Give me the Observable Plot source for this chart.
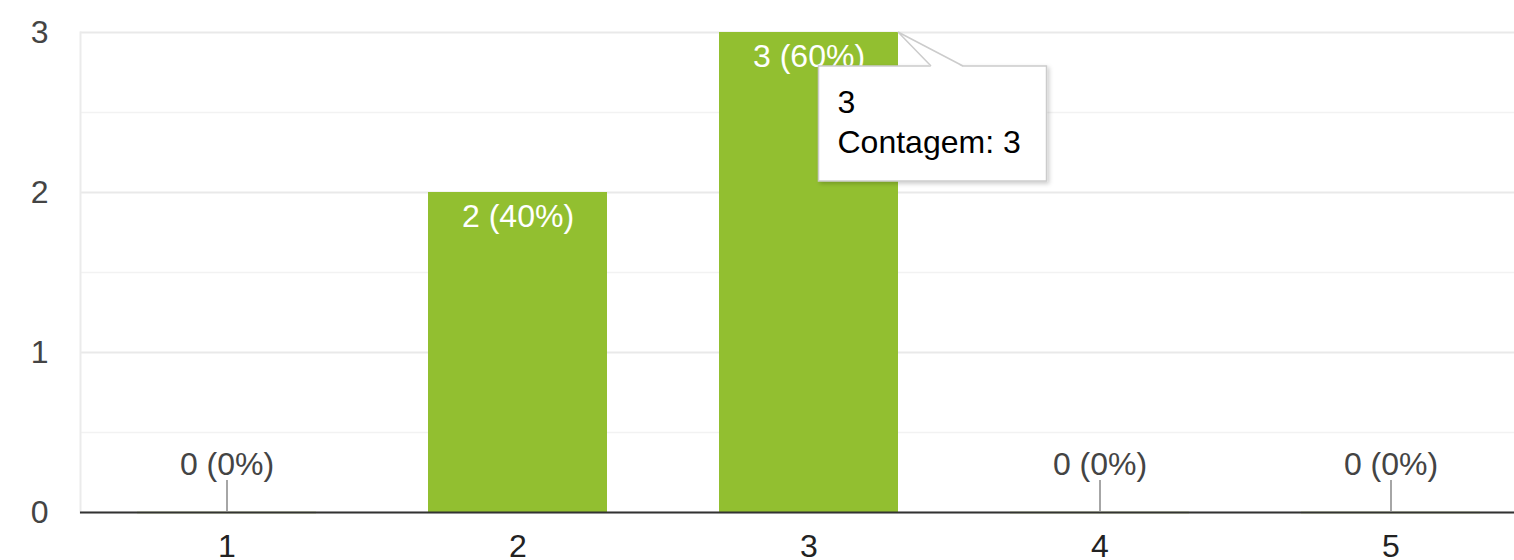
<!DOCTYPE html>
<html>
<head>
<meta charset="utf-8">
<script src="https://cdn.jsdelivr.net/npm/d3@7"></script>
<script src="https://cdn.jsdelivr.net/npm/@observablehq/plot@0.6"></script>
<style>
  html, body { margin: 0; padding: 0; background: #fff; overflow: hidden; }
  #chart { width: 1514px; height: 560px; overflow: hidden; }
  #chart svg { max-width: none !important; font-family: "Liberation Sans", Arial, sans-serif; }
</style>
</head>
<body>
<div id="chart"></div>
<script>
const categories = ["1", "2", "3", "4", "5"];
const counts = [0, 2, 3, 0, 0];
const percents = ["0%", "40%", "60%", "0%", "0%"];
const yTicks = [0, 1, 2, 3];
const yMinor = [0.5, 1.5, 2.5];
const highlighted = "3";
const tooltipTitle = "3";
const tooltipLine = "Contagem: 3";

const data = categories.map((c, i) => ({cat: c, count: counts[i], label: `${counts[i]} (${percents[i]})`}));
const nonZero = data.filter(d => d.count > 0);
const zero = data.filter(d => d.count === 0);

const green = "#92bf30";

const chart = Plot.plot({
  width: 1536,
  height: 560,
  marginLeft: 80,
  marginRight: 0,
  marginTop: 32,
  marginBottom: 48,
  style: {fontFamily: "'Liberation Sans', Arial, sans-serif", fontSize: "32px", background: "#fff", maxWidth: "none"},
  x: {domain: categories, paddingInner: 0.385, paddingOuter: 0.194, label: null},
  y: {domain: [0, 3], label: null},
  marks: [
    Plot.gridY(yMinor, {stroke: "#f2f2f2", strokeOpacity: 1, strokeWidth: 1.5}),
    Plot.gridY(yTicks, {stroke: "#e9e9e9", strokeOpacity: 1, strokeWidth: 2}),
    Plot.frame({anchor: "left", stroke: "#ebebeb", strokeWidth: 2}),
    Plot.axisY({ticks: yTicks, tickSize: 0, tickPadding: 32, fontSize: 32, fill: "#444", tickFormat: d3.format("d")}),
    Plot.axisX({tickSize: 0, tickPadding: 22, fontSize: 32, fill: "#222"}),
    Plot.tickY(zero, {x: "cat", y: 0, stroke: "#e3e8cf", strokeWidth: 3}),
    Plot.barY(nonZero.filter(d => d.cat !== highlighted), {x: "cat", y: "count", fill: green}),
    Plot.barY(nonZero.filter(d => d.cat === highlighted), {x: "cat", y: "count", fill: green, ariaLabel: "highlight"}),
    Plot.ruleY([0], {stroke: "#333", strokeWidth: 2}),
    Plot.ruleX(zero, {x: "cat", y1: 0, y2: 0.2, stroke: "#888", strokeWidth: 1.5}),
    Plot.text(zero, {x: "cat", y: 0, text: "label", dy: -48, fill: "#444", fontSize: 32}),
    Plot.text(nonZero, {x: "cat", y: "count", text: "label", dy: 24, fill: "#fff", fontSize: 32})
  ]
});

document.getElementById("chart").appendChild(chart);

// Shadow on highlighted bar
const svg = d3.select(chart);
const defs = svg.append("defs");
const f = defs.append("filter").attr("id", "barShadow").attr("x", "-10%").attr("y", "-10%").attr("width", "120%").attr("height", "120%");
f.append("feDropShadow").attr("dx", 0).attr("dy", 0).attr("stdDeviation", 2).attr("flood-color", "#000").attr("flood-opacity", 0.45);
const f2 = defs.append("filter").attr("id", "tipShadow").attr("x", "-10%").attr("y", "-10%").attr("width", "130%").attr("height", "130%");
f2.append("feDropShadow").attr("dx", 2).attr("dy", 2).attr("stdDeviation", 2).attr("flood-color", "#000").attr("flood-opacity", 0.2);
svg.selectAll('g[aria-label="highlight"] rect').attr("filter", "url(#barShadow)");

// Tooltip annotation anchored to the highlighted bar via scales
const xs = chart.scale("x");
const ys = chart.scale("y");
const hi = data.find(d => d.cat === highlighted);
const bx = xs.apply(hi.cat);
const bw = xs.bandwidth;
const by = ys.apply(hi.count);
const cx = bx + bw / 2;
const boxL = cx + 10, boxT = by + 34, boxW = 228, boxH = 115;
const tip = svg.append("g").attr("text-anchor", "start");
tip.append("rect").attr("x", boxL).attr("y", boxT).attr("width", boxW).attr("height", boxH)
  .attr("fill", "#fff").attr("stroke", "#cccccc").attr("stroke-width", 1.5).attr("filter", "url(#tipShadow)");
tip.append("path")
  .attr("d", `M${bx + bw},${by} L${bx + bw + 33},${boxT + 1} L${bx + bw + 65},${boxT + 1} Z`)
  .attr("fill", "#fff");
tip.append("path")
  .attr("d", `M${bx + bw + 33},${boxT} L${bx + bw},${by} L${bx + bw + 65},${boxT}`)
  .attr("fill", "none").attr("stroke", "#cccccc").attr("stroke-width", 1.5);
tip.append("text").attr("x", boxL + 19).attr("y", boxT + 47).attr("font-size", 32).attr("fill", "#000").attr("text-anchor", "start").text(tooltipTitle);
tip.append("text").attr("x", boxL + 19).attr("y", boxT + 87).attr("font-size", 32).attr("fill", "#000").attr("text-anchor", "start").text(tooltipLine);
</script>
</body>
</html>
